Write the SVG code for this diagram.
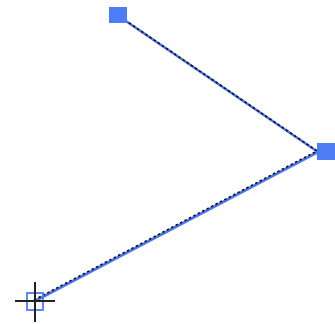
<svg xmlns="http://www.w3.org/2000/svg" width="335" height="324" viewBox="0 0 335 324">
<style>
.ln{fill:none;stroke:#4a74f0;stroke-width:2.6}
.dash{fill:none;stroke:#111;stroke-width:1.6;stroke-dasharray:2.5 2.5}
.h{fill:#4d7cf7}
.cur{stroke:#222;stroke-width:2;fill:none}
</style>
<rect width="335" height="324" fill="#fff"/>
<g id="connectors">
<polyline class="ln" points="35,301 318,152 117,15"/>
<polyline class="dash" points="34,300 317,151 116,14"/>
</g>
<g id="node-top"><rect class="h" x="109" y="7" width="18" height="16"/></g>
<g id="node-right"><rect class="h" x="317" y="143" width="18" height="17"/></g>
<g id="node-start">
<rect x="27" y="293" width="16" height="17" fill="none" stroke="#4d7cf7" stroke-width="1.8"/>
<line class="cur" x1="15" y1="301" x2="55" y2="301"/>
<line class="cur" x1="35" y1="282" x2="35" y2="322"/>
</g>
</svg>
